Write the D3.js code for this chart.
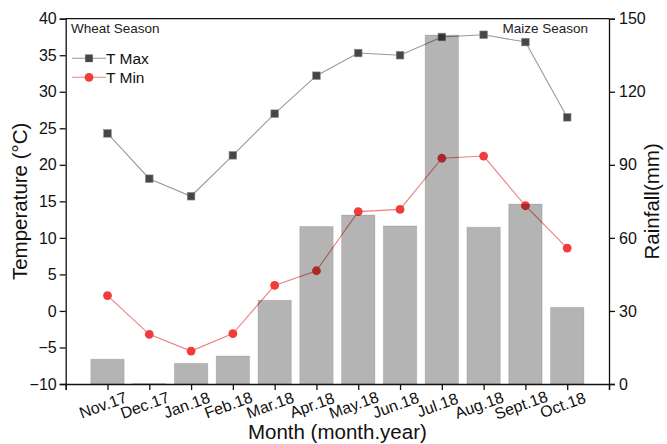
<!DOCTYPE html>
<html>
<head>
<meta charset="utf-8">
<script src="https://cdn.jsdelivr.net/npm/d3@7"></script>
<style>
	body { margin: 0; background: #fff; }
	svg { font-family: 'Liberation Sans', Arial, sans-serif; }
</style>
</head>
<body>
<svg id="chart" width="667" height="444"></svg>
<script>
// monthly data, Nov 2017 - Oct 2018
const months = ['Nov.17', 'Dec.17', 'Jan.18', 'Feb.18', 'Mar.18', 'Apr.18', 'May.18', 'Jun.18', 'Jul.18', 'Aug.18', 'Sept.18', 'Oct.18']
const tMax = [24.3, 18.1, 15.7, 21.3, 27.0, 32.2, 35.3, 35.0, 37.5, 37.8, 36.8, 26.5]
const tMin = [2.1, -3.2, -5.5, -3.1, 3.5, 5.5, 13.6, 13.9, 20.9, 21.2, 14.4, 8.6]
const rainfall = [10.2, 0.2, 8.5, 11.5, 34.4, 64.7, 69.4, 64.9, 143.3, 64.4, 73.9, 31.5]
const tempTicks = d3.range(-10, 41, 5)
const rainTicks = [0, 30, 60, 90, 120, 150]

const svg = d3.select('#chart')
const margin = { left: 65.7, right: 609, top: 18.7, bottom: 384 }

const x = d3.scaleLinear().domain([0, months.length + 1]).range([margin.left, margin.right])
const yT = d3.scaleLinear().domain([-10, 40]).range([margin.bottom, margin.top])
const yR = d3.scaleLinear().domain([0, 150]).range([margin.bottom, margin.top])
const step = x(1) - x(0)
const barW = step * 0.8

// temperature lines
const lineMax = d3.line().x((d, i) => x(i + 1)).y(d => yT(d))
const lineMin = d3.line().x((d, i) => x(i + 1)).y(d => yT(d))

svg.append('path')
	.attr('d', lineMax(tMax))
	.attr('fill', 'none')
	.attr('stroke', '#9a9a9a')
	.attr('stroke-width', 1.1)

svg.append('path')
	.attr('d', lineMin(tMin))
	.attr('fill', 'none')
	.attr('stroke', '#ef7f7f')
	.attr('stroke-width', 1.1)

svg.append('g')
	.selectAll('rect')
	.data(tMax)
	.join('rect')
	.attr('x', (d, i) => x(i + 1) - 3.8)
	.attr('y', d => yT(d) - 3.8)
	.attr('width', 7.6)
	.attr('height', 7.6)
	.attr('fill', '#474747')
	.attr('stroke', '#8a8a8a')
	.attr('stroke-width', 0.6)

svg.append('g')
	.selectAll('circle')
	.data(tMin)
	.join('circle')
	.attr('cx', (d, i) => x(i + 1))
	.attr('cy', d => yT(d))
	.attr('r', 4.4)
	.attr('fill', '#f23b3b')

// rainfall bars drawn over the lines, semi transparent
svg.append('g')
	.selectAll('rect')
	.data(rainfall)
	.join('rect')
	.attr('x', (d, i) => x(i + 1) - barW / 2)
	.attr('y', d => yR(d))
	.attr('width', barW)
	.attr('height', d => yR(0) - yR(d))
	.attr('fill', 'rgba(0,0,0,0.295)')
	.attr('stroke', 'rgba(0,0,0,0.1)')
	.attr('stroke-width', 1)

// axes
const axisLeft = d3.axisLeft(yT).tickValues(tempTicks).tickSize(6).tickPadding(3)
const axisRight = d3.axisRight(yR).tickValues(rainTicks).tickSize(6).tickPadding(4)
const axisBottom = d3.axisBottom(x)
	.tickValues(d3.range(0, months.length + 2))
	.tickSize(6)
	.tickFormat(i => (i >= 1 && i <= months.length ? months[i - 1] : ''))

function styleAxis(g) {
	g.select('.domain').attr('stroke', '#111').attr('stroke-width', 1.3)
	g.selectAll('.tick line').attr('stroke', '#111').attr('stroke-width', 1.3)
	g.selectAll('.tick text').attr('fill', '#111').attr('font-size', 16)
}

svg.append('g')
	.attr('transform', `translate(${margin.left},0)`)
	.call(axisLeft)
	.call(g => g.attr('font-family', null))
	.call(styleAxis)

svg.append('g')
	.attr('transform', `translate(${margin.right},0)`)
	.call(axisRight)
	.call(g => g.attr('font-family', null))
	.call(styleAxis)

svg.append('g')
	.attr('transform', `translate(0,${margin.bottom})`)
	.call(axisBottom)
	.call(g => g.attr('font-family', null))
	.call(styleAxis)
	.call(g => g.selectAll('.tick text')
		.attr('y', 0)
		.attr('dy', '0.35em')
		.attr('text-anchor', 'middle')
		.attr('transform', 'translate(-5,21) rotate(-20)'))

// top frame line
svg.append('line')
	.attr('x1', margin.left)
	.attr('x2', margin.right)
	.attr('y1', margin.top)
	.attr('y2', margin.top)
	.attr('stroke', '#111')
	.attr('stroke-width', 1.3)

// titles
svg.append('text')
	.attr('transform', `translate(27,${(margin.top + margin.bottom) / 2}) rotate(-90)`)
	.attr('text-anchor', 'middle')
	.attr('font-size', 20.5)
	.attr('fill', '#111')
	.text('Temperature (°C)')

svg.append('text')
	.attr('transform', `translate(659,${(margin.top + margin.bottom) / 2}) rotate(-90)`)
	.attr('text-anchor', 'middle')
	.attr('font-size', 20.5)
	.attr('fill', '#111')
	.text('Rainfall(mm)')

svg.append('text')
	.attr('x', (margin.left + margin.right) / 2)
	.attr('y', 439)
	.attr('text-anchor', 'middle')
	.attr('font-size', 20.5)
	.attr('fill', '#111')
	.text('Month (month.year)')

svg.append('text')
	.attr('x', 71)
	.attr('y', 33)
	.attr('font-size', 13.5)
	.attr('fill', '#222')
	.text('Wheat Season')

svg.append('text')
	.attr('x', 588)
	.attr('y', 32.5)
	.attr('text-anchor', 'end')
	.attr('font-size', 13.5)
	.attr('fill', '#222')
	.text('Maize Season')

// legend
const legend = svg.append('g').attr('transform', 'translate(72,0)')
const legendItems = [
	{ name: 'T Max', y: 58.3, line: '#9a9a9a', shape: 'square', color: '#474747' },
	{ name: 'T Min', y: 77.3, line: '#ef7f7f', shape: 'circle', color: '#f23b3b' }
]
legendItems.forEach(item => {
	legend.append('line')
		.attr('x1', 0).attr('x2', 34)
		.attr('y1', item.y).attr('y2', item.y)
		.attr('stroke', item.line)
		.attr('stroke-width', 1.1)
	if (item.shape === 'square') {
		legend.append('rect')
			.attr('x', 17 - 3.8).attr('y', item.y - 3.8)
			.attr('width', 7.6).attr('height', 7.6)
			.attr('fill', item.color)
	} else {
		legend.append('circle')
			.attr('cx', 17).attr('cy', item.y).attr('r', 4.4)
			.attr('fill', item.color)
	}
	legend.append('text')
		.attr('x', 34)
		.attr('y', item.y)
		.attr('dy', '0.36em')
		.attr('font-size', 15.5)
		.attr('fill', '#111')
		.text(item.name)
})
</script>
</body>
</html>
